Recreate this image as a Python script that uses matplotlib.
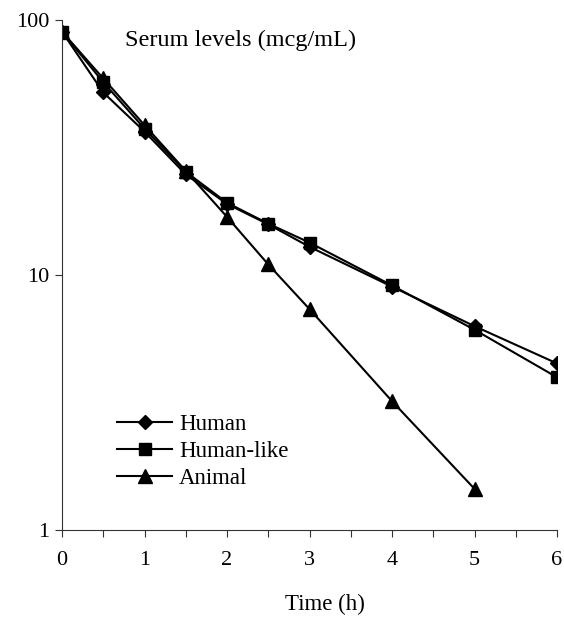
import matplotlib
matplotlib.use("Agg")
import matplotlib.pyplot as plt
from matplotlib.ticker import FixedLocator, NullLocator, FixedFormatter

time_h = [0, 0.5, 1, 1.5, 2, 2.5, 3, 4, 5, 6]
human = [90, 52, 36.5, 24.8, 19.0, 15.8, 12.9, 9.0, 6.3, 4.5]
human_like = [90, 57, 37.5, 25.4, 19.2, 15.9, 13.4, 9.1, 6.1, 3.97]
time_animal = [0, 0.5, 1, 1.5, 2, 2.5, 3, 4, 5]
animal = [90, 59, 38.7, 25.6, 16.9, 11.0, 7.35, 3.2, 1.45]

plt.rcParams['font.family'] = ['Liberation Serif', 'DejaVu Serif']

fig = plt.figure(figsize=(5.64, 6.21), dpi=100)
W, H = 564, 621
x0, x1, yt, yb = 62, 557, 20, 530
ax = fig.add_axes([x0 / W, 1 - yb / H, (x1 - x0) / W, (yb - yt) / H])

lw = 1.5
ax.plot(time_h, human, color='black', lw=lw, marker='D', ms=7, label='Human')
ax.plot(time_h, human_like, color='black', lw=lw, marker='s', ms=8, label='Human-like')
ax.plot(time_animal, animal, color='black', lw=lw, marker='^', ms=9.5, label='Animal')

ax.set_yscale('log')
ax.set_ylim(1, 100)
ax.set_xlim(0, 6)
ax.yaxis.set_major_locator(FixedLocator([1, 10, 100]))
ax.yaxis.set_major_formatter(FixedFormatter(['1', '10', '100']))
ax.yaxis.set_minor_locator(NullLocator())
ax.set_xticks([0, 1, 2, 3, 4, 5, 6])
ax.set_xticks([0.5, 1.5, 2.5, 3.5, 4.5, 5.5], minor=True)

for s in ['top', 'right']:
    ax.spines[s].set_visible(False)
for s in ['left', 'bottom']:
    ax.spines[s].set_linewidth(0.8)
    ax.spines[s].set_color('#333333')

ax.tick_params(axis='both', which='both', direction='out', length=5, width=0.8,
               color='#333333', labelsize=16, pad=6)
ax.tick_params(axis='x', pad=10)
ax.tick_params(axis='y', pad=4)

ax.set_xlabel('Time (h)', fontsize=16.5)
ax.xaxis.set_label_coords((325 - x0) / (x1 - x0), -(604 - yb) / (yb - yt))
ax.xaxis.label.set_va('center')

fig.text(125 / W, 1 - 40 / H, 'Serum levels (mcg/mL)', fontsize=17.5, va='center', ha='left')

leg = ax.legend(loc='upper left', bbox_to_anchor=((117 - x0) / (x1 - x0), 1 - (414 - yt) / (yb - yt)),
                frameon=False, fontsize=16.5, handlelength=2.4, handletextpad=0.3,
                labelspacing=0.26, borderpad=0, borderaxespad=0)

fig.savefig('out.png', dpi=100)
